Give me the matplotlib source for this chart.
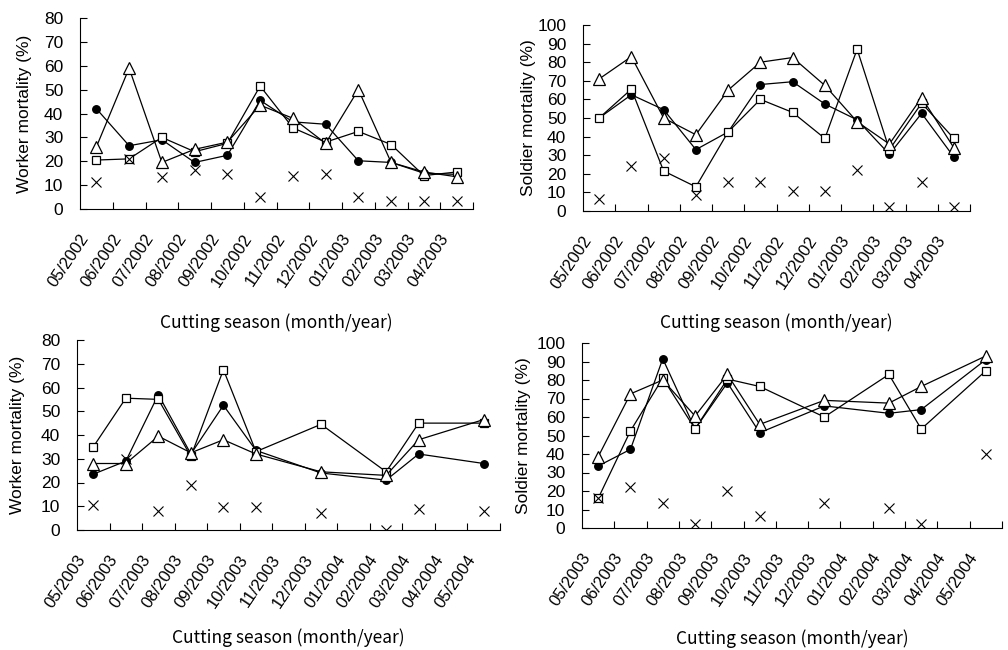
import numpy as np
import matplotlib
matplotlib.use("Agg")
import matplotlib.pyplot as plt
from matplotlib.transforms import ScaledTranslation

plt.rcParams['font.family'] = ['Liberation Sans', 'Noto Sans CJK JP', 'DejaVu Sans']

months_a = ["05/2002", "06/2002", "07/2002", "08/2002", "09/2002", "10/2002",
            "11/2002", "12/2002", "01/2003", "02/2003", "03/2003", "04/2003"]
months_b = ["05/2003", "06/2003", "07/2003", "08/2003", "09/2003", "10/2003",
            "11/2003", "12/2003", "01/2004", "02/2004", "03/2004", "04/2004", "05/2004"]

# Panel A: worker mortality 2002-2003
wa_circle = [42, 26.5, 29, 19.5, 22.5, 45.5, 36.5, 35.5, 20.2, 19.5, 15, 14.5]
wa_square = [20.5, 21, 30, 24, 27.5, 51.5, 34, 28, 32.5, 27, 14, 15.5]
wa_tri = [26, 59, 19.5, 25, 28, 43.5, 38, 27.5, 50, 19.5, 15.5, 13.5]
wa_x = [11.5, 21, 13.5, 16.5, 14.5, 5, 14, 14.5, 5, 3.5, 3.5, 3.5]

# Panel B: soldier mortality 2002-2003
sa_circle = [50, 62.5, 54.5, 33, 42.5, 68, 69.5, 57.5, 49, 30.5, 52.5, 29]
sa_square = [50, 65.5, 21.5, 13, 42.5, 60, 53, 39, 87, 33, 58, 39]
sa_tri = [71, 83, 50, 41, 65, 80, 82.5, 67.5, 48, 36, 61, 34]
sa_x = [6.5, 24, 28.5, 8.5, 15.5, 15.5, 10.5, 10.5, 22, 2, 15.5, 2]

# Panel C: worker mortality 2003-2004 (None = not sampled)
wb_circle = [23.5, 29, 57, 32, 52.5, 33.5, None, 24, None, 21, 32, None, 28]
wb_square = [35, 55.5, 55, 31, 67.5, 33, None, 44.5, None, 24.5, 45, None, 45]
wb_tri = [28, 28, 39.5, 32.5, 38, 32, None, 24.5, None, 23, 38, None, 46.5]
wb_x = [10.5, 30, 8, 19, 9.5, 9.5, None, 7, None, 0, 9, None, 8]

# Panel D: soldier mortality 2003-2004
sb_circle = [33.5, 42.5, 91.5, 53.5, 78.5, 51.5, None, 66, None, 62, 64, None, 91]
sb_square = [16, 52.5, 81, 53.5, 80.5, 76.5, None, 60, None, 83, 53.5, None, 85]
sb_tri = [38.5, 72.5, 80, 60.5, 83, 56, None, 69, None, 67.5, 76.5, None, 93]
sb_x = [16, 22, 13.5, 2, 20, 6.5, None, 13.5, None, 11, 2, None, 40]

ylab_worker = "Worker mortality (%)"
ylab_soldier = "Soldier mortality (%)"
xlab = "Cutting season (month/year)"

DPI = 100
fig = plt.figure(figsize=(10.08, 6.5), dpi=DPI)

panels = [
    ([80/1008, 1-209/650, 393/1008, 191/650], months_a, wa_circle, wa_square, wa_tri, wa_x,
     ylab_worker, 80, -0.545),
    ([583/1008, 1-211/650, 387/1008, 186/650], months_a, sa_circle, sa_square, sa_tri, sa_x,
     ylab_soldier, 100, -0.55),
    ([77/1008, 1-530/650, 423/1008, 190/650], months_b, wb_circle, wb_square, wb_tri, wb_x,
     ylab_worker, 80, -0.52),
    ([582/1008, 1-528/650, 420/1008, 185/650], months_b, sb_circle, sb_square, sb_tri, sb_x,
     ylab_soldier, 100, -0.55),
]


def series(vals):
    idx = [i for i, v in enumerate(vals) if v is not None]
    return np.array(idx), np.array([vals[i] for i in idx], dtype=float)


axes = []
for rect, months, circ, sq, tri, xs, ylab, ymax, xly in panels:
    ax = fig.add_axes(rect)
    n = len(months)
    lw = 0.9
    x, y = series(circ)
    ax.plot(x, y, color='black', lw=lw, marker='o', ms=5.4, mfc='black', mec='black', zorder=3)
    x, y = series(sq)
    ax.plot(x, y, color='black', lw=lw, marker='s', ms=5.2, mfc='white', mec='black', mew=0.9, zorder=4)
    x, y = series(tri)
    ax.plot(x, y, color='black', lw=lw, marker='^', ms=9, mfc='white', mec='black', mew=0.9, zorder=5)
    x, y = series(xs)
    ax.plot(x, y, ls='none', marker='x', ms=7.5, mec='black', mew=0.8, zorder=6)

    ax.set_xlim(-0.5, n - 0.5)
    ax.set_ylim(0, ymax)
    ax.set_yticks(np.arange(0, ymax + 1, 10))
    ax.set_xticks(np.arange(n))
    ax.set_xticks(np.arange(n) + 0.5, minor=True)
    ax.tick_params(axis='x', which='major', length=0, pad=4)
    ax.tick_params(axis='x', which='minor', direction='in', length=5, width=0.8)
    ax.tick_params(axis='y', direction='in', length=5, width=0.8, labelsize=12.5, pad=12)
    ax.set_xticklabels(months, rotation=56, ha='right', va='top', rotation_mode='anchor',
                       fontsize=12)
    for s in ['top', 'right']:
        ax.spines[s].set_visible(False)
    for s in ['left', 'bottom']:
        ax.spines[s].set_linewidth(0.8)
    ax.set_ylabel(ylab, fontsize=12.5)
    ax.yaxis.set_label_coords(-0.122, 0.5)
    ax.set_xlabel(xlab, fontsize=12.5, family=['Noto Sans CJK JP', 'DejaVu Sans'])
    ax.xaxis.set_label_coords(0.5, xly)
    ax.patch.set_visible(False)
    axes.append(ax)

# place rotated month labels: upper-right end a little left of the category
# centre and about 24 px below the axis line, as in the reference
fig.canvas.draw()
renderer = fig.canvas.get_renderer()
for ax in axes:
    ybase = ax.get_window_extent(renderer).y0
    labs = ax.get_xticklabels()
    for i, lab in enumerate(labs):
        bb = lab.get_window_extent(renderer)
        cx = ax.transData.transform((i, 0))[0]
        dx = (cx - 5) - bb.x1
        dy = (ybase - 22) - bb.y1
        lab.set_transform(lab.get_transform() +
                          ScaledTranslation(dx / DPI, dy / DPI, fig.dpi_scale_trans))

fig.savefig("out.png", dpi=DPI)
